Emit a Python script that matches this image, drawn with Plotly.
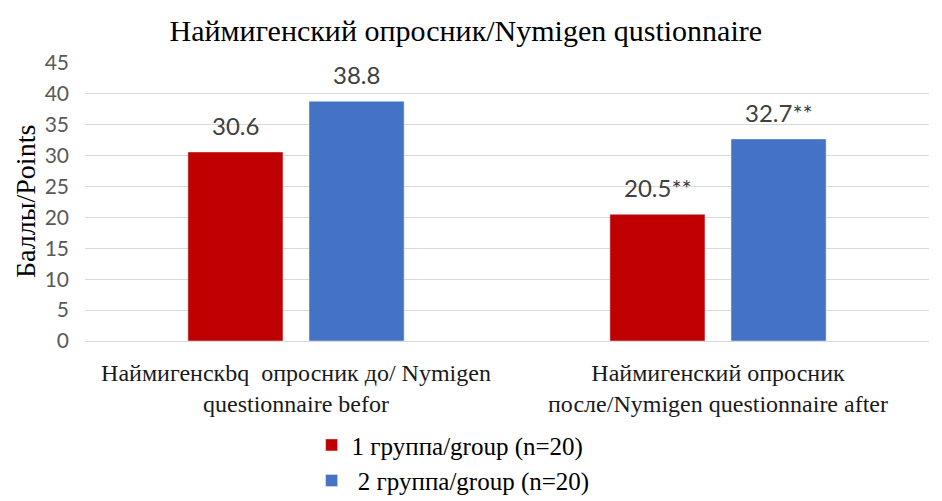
import plotly.graph_objects as go

# данные
categories = ["Наймигенскbq  опросник до/ Nymigen<br>questionnaire befor",
              "Наймигенский опросник<br>после/Nymigen questionnaire after"]
group1 = [30.6, 20.5]
group2 = [38.8, 32.7]
labels1 = ["30.6", "20.5**"]
labels2 = ["38.8", "32.7**"]
names = ["1 группа/group (n=20)", " 2 группа/group (n=20)"]
colors = ["#C00000", "#4472C4"]

fig = go.Figure()
fig.add_trace(go.Bar(x=categories, y=group1, name=names[0], marker_color=colors[0]))
fig.add_trace(go.Bar(x=categories, y=group2, name=names[1], marker_color=colors[1]))

# подписи над столбиками
for vals, labs, shift in [(group1, labels1, -60.5), (group2, labels2, 60.5)]:
    for c, v, t in zip(categories, vals, labs):
        fig.add_annotation(x=c, y=v, text=t, showarrow=False,
                           xshift=shift, yshift=10, yanchor="bottom",
                           font=dict(family="Lato", size=24, color="#404040"))

# подпись оси Y
fig.add_annotation(x=0, xref="paper", y=0.5, yref="paper", xshift=-60,
                   xanchor="center", yanchor="middle",
                   text="Баллы/Points", textangle=-90, showarrow=False,
                   font=dict(family="Liberation Serif", size=28, color="black"))

# страница имеет отступ 8px, поэтому поля сдвинуты
fig.update_layout(
    width=942, height=501,
    paper_bgcolor="white", plot_bgcolor="white",
    barmode="group", bargap=0.426, bargroupgap=0.215,
    margin=dict(l=77, r=21, t=55, b=168, autoexpand=False),
    title=dict(text="Наймигенский опросник/Nymigen qustionnaire",
               x=0.486, xanchor="center", xref="container",
               y=0.955, yanchor="middle",
               font=dict(family="Liberation Serif", size=30, color="black")),
    legend=dict(orientation="v", x=0.2685, xanchor="left", y=-0.292, yanchor="top",
                font=dict(family="Liberation Serif", size=25, color="black"),
                itemwidth=30, tracegroupgap=0),
)
fig.update_yaxes(range=[0, 45], dtick=5, showgrid=True, gridcolor="#D9D9D9",
                 gridwidth=1, zeroline=False, showline=False, automargin=False,
                 ticklabelstandoff=15,
                 tickfont=dict(family="Lato", size=21, color="#595959"))
fig.update_xaxes(showline=True, linecolor="#D9D9D9", showgrid=False, automargin=False,
                 ticklabelstandoff=10,
                 tickfont=dict(family="Liberation Serif", size=24, color="#1a1a1a"))

fig.write_html("out.html")
